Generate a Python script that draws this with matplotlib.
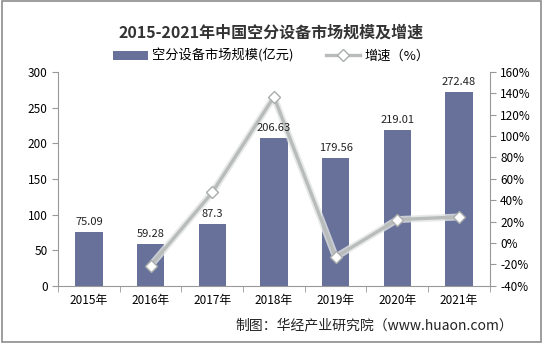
import matplotlib.pyplot as plt
import numpy as np
from matplotlib.ticker import FuncFormatter
from matplotlib.patches import Rectangle

plt.rcParams['font.family'] = ['Noto Sans CJK SC', 'DejaVu Sans']

years = ['2015年', '2016年', '2017年', '2018年', '2019年', '2020年', '2021年']
market = [75.09, 59.28, 87.3, 206.63, 179.56, 219.01, 272.48]
growth_years = ['2016年', '2017年', '2018年', '2019年', '2020年', '2021年']
growth = [-21.05, 47.27, 136.69, -13.10, 21.97, 24.41]

fig = plt.figure(figsize=(5.43, 3.44), dpi=100)
fig.patches.append(Rectangle((0.004, 0.006), 0.992, 0.99, transform=fig.transFigure,
                             fill=False, edgecolor='#8c8c8c', lw=1.2))
ax = fig.add_axes([0.107, 0.169, 0.795, 0.622])
ax2 = ax.twinx()

x = np.arange(len(years))
bars = ax.bar(x, market, width=0.44, color='#67719A', label='空分设备市场规模(亿元)', zorder=2)
# labels on the top axes so the line doesn't cover them
for xi, v in zip(x, market):
    ax2.text(xi, v + 7, f'{v:g}', ha='center', va='bottom', fontsize=8, color='#222222',
             transform=ax.transData, zorder=5)

gx = [years.index(g) for g in growth_years]
ax2.plot(gx, growth, color='#e2e4e3', lw=5, zorder=1, alpha=0.8)
ln, = ax2.plot(gx, growth, color='#b8bcba', lw=2.4, marker='D', markersize=6,
               markerfacecolor='white', markeredgecolor='#a9adab', markeredgewidth=1,
               label='增速（%）', zorder=3)

ax.set_xlim(-0.5, len(years) - 0.5)
ax.set_ylim(0, 300)
ax.set_yticks(range(0, 301, 50))
ax2.set_ylim(-40, 160)
ax2.set_yticks(range(-40, 161, 20))
ax2.yaxis.set_major_formatter(FuncFormatter(lambda v, p: f'{v:.0f}%'))

ax.set_xticks(x)
ax.set_xticklabels(years)
ax.set_xticks(np.arange(-0.5, len(years), 1), minor=True)
ax.tick_params(axis='x', which='major', length=0, pad=6, labelsize=8.5)
ax.tick_params(axis='x', which='minor', length=4, color='#999999')
ax.tick_params(axis='y', length=4, color='#999999', labelsize=8.5)
ax2.tick_params(axis='y', length=4, color='#999999', labelsize=8.5)

for a in (ax, ax2):
    a.spines['top'].set_visible(False)
    for s in ('left', 'right', 'bottom'):
        a.spines[s].set_color('#999999')
ax.spines['right'].set_visible(False)
ax2.spines['left'].set_visible(False)
ax2.spines['bottom'].set_visible(False)

ax.set_zorder(ax2.get_zorder() - 1)
ax2.patch.set_visible(False)

fig.text(0.5, 0.905, '2015-2021年中国空分设备市场规模及增速', ha='center', va='center',
         fontsize=11.5, fontweight='bold', color='#333333')
fig.legend([bars, ln], ['空分设备市场规模(亿元)', '增速（%）'], loc='center',
           bbox_to_anchor=(0.5, 0.838), ncol=2, frameon=False, fontsize=9.5,
           handlelength=2.6, columnspacing=2.5, handletextpad=0.3)
fig.text(0.69, 0.055, '制图：华经产业研究院（www.huaon.com）', ha='center', va='center',
         fontsize=10, color='#222222')

fig.savefig('out.png', dpi=100)
